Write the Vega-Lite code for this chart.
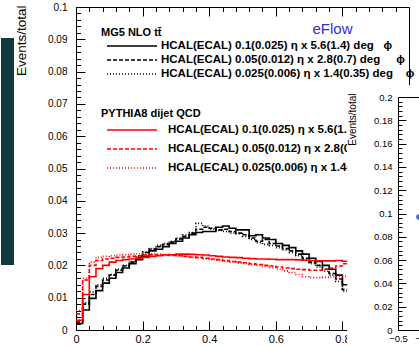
{
  "$schema": "https://vega.github.io/schema/vega-lite/v6.json",
  "padding": {"left": 0, "top": 1, "right": 0, "bottom": 0},
  "background": "white",
  "config": {
    "font": "Liberation Sans",
    "axis": {"labelFont": "Liberation Sans", "titleFont": "Liberation Sans", "labelColor": "black", "titleColor": "black", "domainColor": "black", "tickColor": "black", "grid": false, "titleFontWeight": "normal", "labelOverlap": false, "labelFlush": false},
    "view": {"stroke": "black", "strokeWidth": 1}
  },
  "bounds": "flush",
  "spacing": 0,
  "hconcat": [
    {
      "width": 333,
      "height": 323,
      "data": {"values": [
        {"x": 0.00, "a": 0.0020, "b": 0.0025, "c": 0.0030, "d": 0.0030, "e": 0.0050, "f": 0.0060},
        {"x": 0.02, "a": 0.0062, "b": 0.0080, "c": 0.0085, "d": 0.0110, "e": 0.0155, "f": 0.0160},
        {"x": 0.04, "a": 0.0098, "b": 0.0110, "c": 0.0118, "d": 0.0165, "e": 0.0200, "f": 0.0210},
        {"x": 0.06, "a": 0.0122, "b": 0.0135, "c": 0.0140, "d": 0.0190, "e": 0.0215, "f": 0.0225},
        {"x": 0.08, "a": 0.0145, "b": 0.0155, "c": 0.0160, "d": 0.0200, "e": 0.0220, "f": 0.0228},
        {"x": 0.10, "a": 0.0160, "b": 0.0170, "c": 0.0172, "d": 0.0210, "e": 0.0222, "f": 0.0230},
        {"x": 0.12, "a": 0.0178, "b": 0.0185, "c": 0.0188, "d": 0.0215, "e": 0.0225, "f": 0.0232},
        {"x": 0.14, "a": 0.0192, "b": 0.0198, "c": 0.0200, "d": 0.0218, "e": 0.0226, "f": 0.0233},
        {"x": 0.16, "a": 0.0205, "b": 0.0210, "c": 0.0212, "d": 0.0220, "e": 0.0228, "f": 0.0235},
        {"x": 0.18, "a": 0.0218, "b": 0.0225, "c": 0.0228, "d": 0.0222, "e": 0.0230, "f": 0.0236},
        {"x": 0.20, "a": 0.0228, "b": 0.0240, "c": 0.0242, "d": 0.0225, "e": 0.0232, "f": 0.0236},
        {"x": 0.22, "a": 0.0245, "b": 0.0250, "c": 0.0252, "d": 0.0228, "e": 0.0233, "f": 0.0236},
        {"x": 0.24, "a": 0.0250, "b": 0.0258, "c": 0.0262, "d": 0.0230, "e": 0.0232, "f": 0.0235},
        {"x": 0.26, "a": 0.0258, "b": 0.0265, "c": 0.0268, "d": 0.0232, "e": 0.0232, "f": 0.0234},
        {"x": 0.28, "a": 0.0268, "b": 0.0272, "c": 0.0275, "d": 0.0233, "e": 0.0231, "f": 0.0232},
        {"x": 0.30, "a": 0.0275, "b": 0.0282, "c": 0.0285, "d": 0.0235, "e": 0.0230, "f": 0.0230},
        {"x": 0.32, "a": 0.0285, "b": 0.0290, "c": 0.0295, "d": 0.0235, "e": 0.0228, "f": 0.0228},
        {"x": 0.34, "a": 0.0295, "b": 0.0300, "c": 0.0302, "d": 0.0234, "e": 0.0226, "f": 0.0225},
        {"x": 0.36, "a": 0.0302, "b": 0.0312, "c": 0.0330, "d": 0.0233, "e": 0.0225, "f": 0.0223},
        {"x": 0.38, "a": 0.0305, "b": 0.0318, "c": 0.0322, "d": 0.0232, "e": 0.0222, "f": 0.0220},
        {"x": 0.40, "a": 0.0305, "b": 0.0315, "c": 0.0312, "d": 0.0230, "e": 0.0220, "f": 0.0218},
        {"x": 0.42, "a": 0.0318, "b": 0.0310, "c": 0.0308, "d": 0.0228, "e": 0.0218, "f": 0.0215},
        {"x": 0.44, "a": 0.0322, "b": 0.0312, "c": 0.0305, "d": 0.0226, "e": 0.0215, "f": 0.0212},
        {"x": 0.46, "a": 0.0315, "b": 0.0305, "c": 0.0300, "d": 0.0225, "e": 0.0212, "f": 0.0210},
        {"x": 0.48, "a": 0.0310, "b": 0.0300, "c": 0.0298, "d": 0.0224, "e": 0.0210, "f": 0.0207},
        {"x": 0.50, "a": 0.0310, "b": 0.0295, "c": 0.0290, "d": 0.0222, "e": 0.0208, "f": 0.0205},
        {"x": 0.52, "a": 0.0292, "b": 0.0285, "c": 0.0280, "d": 0.0221, "e": 0.0205, "f": 0.0202},
        {"x": 0.54, "a": 0.0295, "b": 0.0275, "c": 0.0270, "d": 0.0220, "e": 0.0203, "f": 0.0200},
        {"x": 0.56, "a": 0.0285, "b": 0.0280, "c": 0.0265, "d": 0.0220, "e": 0.0200, "f": 0.0197},
        {"x": 0.58, "a": 0.0280, "b": 0.0268, "c": 0.0262, "d": 0.0219, "e": 0.0198, "f": 0.0193},
        {"x": 0.60, "a": 0.0268, "b": 0.0260, "c": 0.0255, "d": 0.0218, "e": 0.0195, "f": 0.0188},
        {"x": 0.62, "a": 0.0262, "b": 0.0252, "c": 0.0248, "d": 0.0218, "e": 0.0192, "f": 0.0183},
        {"x": 0.64, "a": 0.0255, "b": 0.0245, "c": 0.0240, "d": 0.0218, "e": 0.0190, "f": 0.0178},
        {"x": 0.66, "a": 0.0245, "b": 0.0235, "c": 0.0230, "d": 0.0217, "e": 0.0188, "f": 0.0172},
        {"x": 0.68, "a": 0.0235, "b": 0.0222, "c": 0.0218, "d": 0.0216, "e": 0.0187, "f": 0.0165},
        {"x": 0.70, "a": 0.0222, "b": 0.0210, "c": 0.0205, "d": 0.0215, "e": 0.0185, "f": 0.0162},
        {"x": 0.72, "a": 0.0212, "b": 0.0200, "c": 0.0195, "d": 0.0214, "e": 0.0185, "f": 0.0162},
        {"x": 0.74, "a": 0.0200, "b": 0.0188, "c": 0.0182, "d": 0.0214, "e": 0.0188, "f": 0.0163},
        {"x": 0.76, "a": 0.0188, "b": 0.0175, "c": 0.0170, "d": 0.0214, "e": 0.0192, "f": 0.0165},
        {"x": 0.78, "a": 0.0170, "b": 0.0158, "c": 0.0150, "d": 0.0215, "e": 0.0198, "f": 0.0166},
        {"x": 0.80, "a": 0.0140, "b": 0.0125, "c": 0.0120, "d": 0.0213, "e": 0.0205, "f": 0.0166},
        {"x": 0.82, "a": 0.0130, "b": 0.0115, "c": 0.0112, "d": 0.0213, "e": 0.0205, "f": 0.0166}
      ]},
      "layer": [
        {
          "data": {"values": [{}]},
          "mark": {"type": "rect", "color": "#0e3a40"},
          "encoding": {
            "x": {"datum": -0.2252, "type": "quantitative", "scale": {"domain": [0, 1], "nice": false, "zero": false}, "axis": null},
            "x2": {"datum": -0.1862},
            "y": {"datum": 0.0904, "type": "quantitative", "scale": {"domain": [0, 0.1], "nice": false, "zero": false}, "axis": null},
            "y2": {"datum": 0.0201}
          }
        },
        {
          "transform": [
            {"fold": ["a", "b", "c", "d", "e", "f"], "as": ["key", "value"]},
            {"lookup": "key", "from": {"data": {"values": [
              {"key": "a", "grp": "mg", "name": "HCAL(ECAL) 0.1(0.025) η x 5.6(1.4) deg\u00a0\u00a0\u00a0ϕ"},
              {"key": "b", "grp": "mg", "name": "HCAL(ECAL) 0.05(0.012) η x 2.8(0.7) deg\u00a0\u00a0\u00a0\u00a0\u00a0ϕ"},
              {"key": "c", "grp": "mg", "name": "HCAL(ECAL) 0.025(0.006) η x 1.4(0.35) deg\u00a0\u00a0\u00a0\u00a0ϕ"},
              {"key": "d", "grp": "py", "name": "HCAL(ECAL) 0.1(0.025) η x 5.6(1.4) deg ϕ"},
              {"key": "e", "grp": "py", "name": "HCAL(ECAL) 0.05(0.012) η x 2.8(0.7) deg ϕ"},
              {"key": "f", "grp": "py", "name": "HCAL(ECAL) 0.025(0.006) η x 1.4(0.35) deg ϕ"}
            ]}, "key": "key", "fields": ["grp", "name"]}},
            {"filter": "datum.grp === 'mg'"}
          ],
          "mark": {"type": "line", "interpolate": "step-after", "strokeWidth": 1.6, "color": "black"},
          "encoding": {
            "x": {"field": "x", "type": "quantitative", "scale": {"domain": [0, 1], "nice": false, "zero": false},
              "axis": {"orient": "bottom", "title": null, "format": "~g",
                "values": [0, 0.04, 0.08, 0.12, 0.16, 0.2, 0.24, 0.28, 0.32, 0.36, 0.4, 0.44, 0.48, 0.52, 0.56, 0.6, 0.64, 0.68, 0.72, 0.76, 0.8],
                "labelExpr": "abs(datum.value*5 - round(datum.value*5)) < 0.001 ? datum.label : ''",
                "tickSize": {"condition": {"test": "abs(datum.value*5 - round(datum.value*5)) < 0.001", "value": -9}, "value": -4.5},
                "labelPadding": 12, "labelFontSize": 11}},
            "y": {"field": "value", "type": "quantitative", "scale": {"domain": [0, 0.1], "nice": false, "zero": false},
              "axis": {"orient": "left", "title": "Events/total", "titleFontSize": 13.5, "titleAnchor": "end", "titleX": -48, "titleY": -2, "format": "~g",
                "values": [0, 0.002, 0.004, 0.006, 0.008, 0.01, 0.012, 0.014, 0.016, 0.018, 0.02, 0.022, 0.024, 0.026, 0.028, 0.03, 0.032, 0.034, 0.036, 0.038, 0.04, 0.042, 0.044, 0.046, 0.048, 0.05, 0.052, 0.054, 0.056, 0.058, 0.06, 0.062, 0.064, 0.066, 0.068, 0.07, 0.072, 0.074, 0.076, 0.078, 0.08, 0.082, 0.084, 0.086, 0.088, 0.09, 0.092, 0.094, 0.096, 0.098, 0.1],
                "labelExpr": "abs(datum.value*100 - round(datum.value*100)) < 0.001 ? datum.label : ''",
                "tickSize": {"condition": {"test": "abs(datum.value*100 - round(datum.value*100)) < 0.001", "value": -9}, "value": -4.5},
                "labelPadding": 18, "labelFontSize": 10}},
            "strokeDash": {"field": "name", "type": "nominal",
              "scale": {"domain": ["HCAL(ECAL) 0.1(0.025) η x 5.6(1.4) deg\u00a0\u00a0\u00a0ϕ", "HCAL(ECAL) 0.05(0.012) η x 2.8(0.7) deg\u00a0\u00a0\u00a0\u00a0\u00a0ϕ", "HCAL(ECAL) 0.025(0.006) η x 1.4(0.35) deg\u00a0\u00a0\u00a0\u00a0ϕ"], "range": [[1, 0], [4, 2], [1, 2]]},
              "legend": {"title": "MG5 NLO tt̄", "orient": "none", "legendX": 25, "legendY": 20, "padding": 0,
                "symbolType": "M0,0H10", "symbolSize": 100, "symbolStrokeColor": "black", "symbolStrokeWidth": 1.6, "symbolFillColor": "transparent",
                "labelFont": "Liberation Sans", "labelFontSize": 11.5, "labelFontWeight": "bold", "labelColor": "black", "labelOffset": 48, "labelLimit": 500,
                "titleFont": "Liberation Sans", "titleFontSize": 11, "titleFontWeight": "bold", "titleColor": "black", "titlePadding": 2, "rowPadding": 2}}
          }
        },
        {
          "transform": [
            {"fold": ["a", "b", "c", "d", "e", "f"], "as": ["key", "value"]},
            {"lookup": "key", "from": {"data": {"values": [
              {"key": "a", "grp": "mg", "name": "HCAL(ECAL) 0.1(0.025) η x 5.6(1.4) deg\u00a0\u00a0\u00a0ϕ"},
              {"key": "b", "grp": "mg", "name": "HCAL(ECAL) 0.05(0.012) η x 2.8(0.7) deg\u00a0\u00a0\u00a0\u00a0\u00a0ϕ"},
              {"key": "c", "grp": "mg", "name": "HCAL(ECAL) 0.025(0.006) η x 1.4(0.35) deg\u00a0\u00a0\u00a0\u00a0ϕ"},
              {"key": "d", "grp": "py", "name": "HCAL(ECAL) 0.1(0.025) η x 5.6(1.4) deg ϕ"},
              {"key": "e", "grp": "py", "name": "HCAL(ECAL) 0.05(0.012) η x 2.8(0.7) deg ϕ"},
              {"key": "f", "grp": "py", "name": "HCAL(ECAL) 0.025(0.006) η x 1.4(0.35) deg ϕ"}
            ]}, "key": "key", "fields": ["grp", "name"]}},
            {"filter": "datum.grp === 'py'"}
          ],
          "mark": {"type": "line", "interpolate": "step-after", "strokeWidth": 1.6, "color": "#ff0000"},
          "encoding": {
            "x": {"field": "x", "type": "quantitative", "scale": {"domain": [0, 1], "nice": false, "zero": false}, "axis": null},
            "y": {"field": "value", "type": "quantitative", "scale": {"domain": [0, 0.1], "nice": false, "zero": false}, "axis": null},
            "strokeDash": {"field": "name", "type": "nominal",
              "scale": {"domain": ["HCAL(ECAL) 0.1(0.025) η x 5.6(1.4) deg ϕ", "HCAL(ECAL) 0.05(0.012) η x 2.8(0.7) deg ϕ", "HCAL(ECAL) 0.025(0.006) η x 1.4(0.35) deg ϕ"], "range": [[1, 0], [4, 2], [1, 2]]},
              "legend": {"title": "PYTHIA8 dijet QCD", "orient": "none", "legendX": 25, "legendY": 101, "padding": 0,
                "symbolType": "M0,0H10", "symbolSize": 100, "symbolStrokeColor": "#ff0000", "symbolStrokeWidth": 1.6, "symbolFillColor": "transparent",
                "labelFont": "Liberation Sans", "labelFontSize": 11.5, "labelFontWeight": "bold", "labelColor": "black", "labelOffset": 55, "labelLimit": 196,
                "titleFont": "Liberation Sans", "titleFontSize": 11, "titleFontWeight": "bold", "titleColor": "black", "titlePadding": 5, "rowPadding": 7}}
          }
        },
        {
          "data": {"values": [{}]},
          "mark": {"type": "text", "text": "eFlow", "fontSize": 15, "font": "Liberation Sans", "color": "#2e2ed6"},
          "encoding": {
            "x": {"datum": 0.7703, "type": "quantitative", "axis": null},
            "y": {"datum": 0.0932, "type": "quantitative", "axis": null}
          }
        },
        {
          "data": {"values": [{}]},
          "mark": {"type": "point", "opacity": 0},
          "encoding": {
            "x": {"datum": 0.5, "type": "quantitative",
              "axis": {"orient": "top", "title": null, "labels": false, "domain": false,
                "values": [0, 0.04, 0.08, 0.12, 0.16, 0.2, 0.24, 0.28, 0.32, 0.36, 0.4, 0.44, 0.48, 0.52, 0.56, 0.6, 0.64, 0.68, 0.72, 0.76, 0.8, 0.84, 0.88, 0.92, 0.96, 1],
                "tickSize": {"condition": {"test": "abs(datum.value*5 - round(datum.value*5)) < 0.001", "value": -9}, "value": -4.5}}},
            "y": {"datum": 0.05, "type": "quantitative", "axis": null}
          }
        }
      ],
      "resolve": {"scale": {"strokeDash": "independent"}, "legend": {"strokeDash": "independent"}, "axis": {"x": "independent", "y": "independent"}}
    },
    {
      "spacing": 0,
      "bounds": "flush",
      "vconcat": [
        {"width": 20, "height": 90, "data": {"values": []}, "mark": "point", "view": {"stroke": null}},
        {
          "width": 250,
          "height": 233,
          "view": {"stroke": null},
          "data": {"values": [{}]},
          "layer": [
            {
              "mark": {"type": "rect", "color": "white"},
              "encoding": {
                "x": {"datum": -0.695, "type": "quantitative", "scale": {"domain": [-0.5, 0.5], "range": [-11, 250], "nice": false, "zero": false}, "axis": null},
                "x2": {"datum": 0.5},
                "y": {"datum": 0.2103, "type": "quantitative", "scale": {"domain": [0, 0.2], "nice": false, "zero": false}, "axis": null},
                "y2": {"datum": -0.0137}
              }
            },
            {
              "mark": {"type": "point", "filled": true, "color": "#4f5fe0", "size": 30, "opacity": 1},
              "encoding": {
                "x": {"datum": -0.42, "type": "quantitative",
                  "axis": {"orient": "bottom", "title": null, "zindex": 1, "format": "~g", "values": [-0.5, -0.4, -0.3, -0.2, -0.1, 0, 0.1, 0.2, 0.3, 0.4, 0.5], "tickSize": -8, "labelPadding": 11, "labelFontSize": 9.5}},
                "y": {"datum": 0.097, "type": "quantitative",
                  "axis": {"orient": "left", "offset": 11, "title": "Events/total", "titleFontSize": 10, "titleAnchor": "end", "titleX": -41, "titleY": -4, "zindex": 1, "format": "~g",
                    "values": [0, 0.004, 0.008, 0.012, 0.016, 0.02, 0.024, 0.028, 0.032, 0.036, 0.04, 0.044, 0.048, 0.052, 0.056, 0.06, 0.064, 0.068, 0.072, 0.076, 0.08, 0.084, 0.088, 0.092, 0.096, 0.1, 0.104, 0.108, 0.112, 0.116, 0.12, 0.124, 0.128, 0.132, 0.136, 0.14, 0.144, 0.148, 0.152, 0.156, 0.16, 0.164, 0.168, 0.172, 0.176, 0.18, 0.184, 0.188, 0.192, 0.196, 0.2],
                    "labelExpr": "abs(datum.value*50 - round(datum.value*50)) < 0.001 ? datum.label : ''",
                    "tickSize": {"condition": {"test": "abs(datum.value*50 - round(datum.value*50)) < 0.001", "value": -8}, "value": -4},
                    "labelPadding": 14, "labelFontSize": 9.5}}
              }
            },
            {
              "mark": {"type": "point", "opacity": 0},
              "encoding": {
                "x": {"datum": 0, "type": "quantitative",
                  "axis": {"orient": "top", "title": null, "labels": false, "zindex": 1, "values": [-0.5, -0.4, -0.3, -0.2, -0.1, 0, 0.1, 0.2, 0.3, 0.4, 0.5], "tickSize": -8}},
                "y": {"datum": 0.1, "type": "quantitative", "axis": null}
              }
            }
          ],
          "resolve": {"axis": {"x": "independent", "y": "independent"}}
        }
      ]
    }
  ]
}
